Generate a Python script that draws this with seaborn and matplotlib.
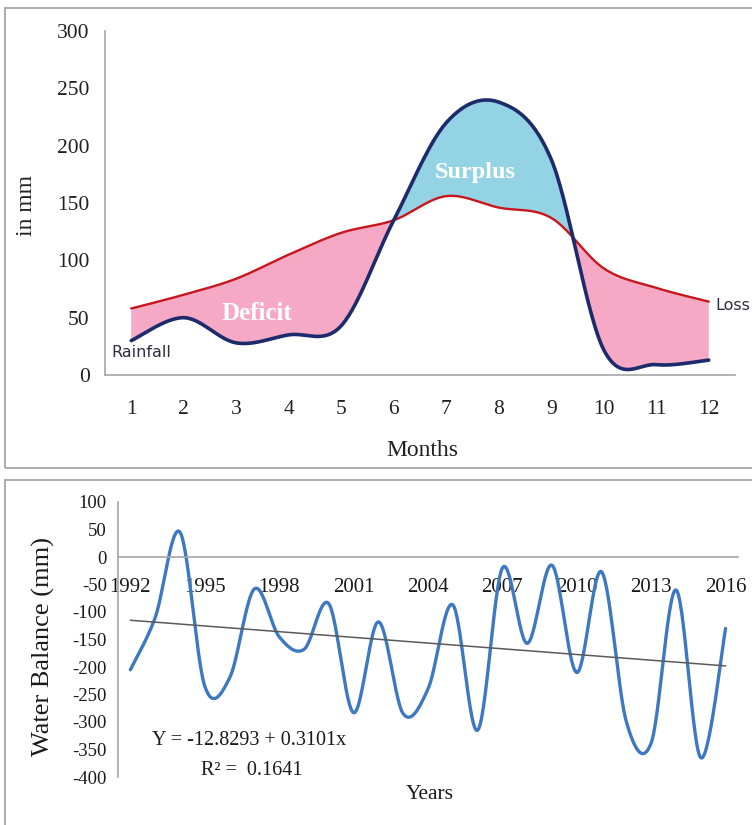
import numpy as np
import matplotlib
matplotlib.use("Agg")
import matplotlib.pyplot as plt
from matplotlib.patches import Rectangle
import seaborn as sns

# ---- data ----
months = [1, 2, 3, 4, 5, 6, 7, 8, 9, 10, 11, 12]
rainfall = [30, 50, 28, 35, 43, 135, 220, 238, 188, 22, 9, 13]
loss = [58, 70, 84, 105, 124, 135, 156, 146, 137, 93, 76, 64]

years = list(range(1992, 2017))
balance = [-205, -110, 45, -235, -220, -58, -145, -168, -85, -283,
           -118, -285, -240, -87, -315, -20, -157, -15, -210, -27,
           -300, -338, -60, -365, -130]
trend_years = [1992, 2016]
trend_vals = [-115, -198]
year_labels = [1992, 1995, 1998, 2001, 2004, 2007, 2010, 2013, 2016]

PINK = "#f6a9c4"
SKY = "#93d3e3"
NAVY = "#1d2a6c"
RED = "#c8161d"
BLUE = "#3d78c2"
GRID = "#a6a6a6"


def smooth(x, y, n=30):
    # Catmull-Rom curve through the points (Excel "smoothed line" look)
    x = np.asarray(x, float)
    y = np.asarray(y, float)
    px = np.concatenate([[x[0]], x, [x[-1]]])
    py = np.concatenate([[y[0]], y, [y[-1]]])
    t = np.linspace(0, 1, n, endpoint=False)
    h00 = 2 * t**3 - 3 * t**2 + 1
    h10 = t**3 - 2 * t**2 + t
    h01 = -2 * t**3 + 3 * t**2
    h11 = t**3 - t**2
    xs, ys = [], []
    for i in range(1, len(px) - 2):
        for p, out in ((px, xs), (py, ys)):
            m0 = (p[i + 1] - p[i - 1]) / 2
            m1 = (p[i + 2] - p[i]) / 2
            out.append(h00 * p[i] + h10 * m0 + h01 * p[i + 1] + h11 * m1)
    xs.append([x[-1]])
    ys.append([y[-1]])
    return np.concatenate(xs), np.concatenate(ys)


sns.set_style("white")
plt.rcParams["font.family"] = ["Liberation Serif", "DejaVu Serif"]
plt.rcParams["axes.unicode_minus"] = False

W, H = 752, 825
fig = plt.figure(figsize=(W / 100, H / 100), dpi=100)

# panel frames
fig.add_artist(Rectangle((5 / W, 1 - 468 / H), 1.1, (468 - 8) / H,
                         transform=fig.transFigure, fill=False,
                         ec=GRID, lw=1.3))
fig.add_artist(Rectangle((5 / W, -0.1), 1.1, 0.1 + 1 - 480 / H,
                         transform=fig.transFigure, fill=False,
                         ec=GRID, lw=1.3))

# ================= top chart =================
ax1 = fig.add_axes([105 / W, 1 - 375 / H, 630 / W, 344 / H])
mx, rs = smooth(months, rainfall)
_, ls = smooth(months, loss)
ax1.fill_between(mx, rs, ls, where=ls >= rs, color=PINK, interpolate=True, lw=0)
ax1.fill_between(mx, rs, ls, where=rs > ls, color=SKY, interpolate=True, lw=0)
sns.lineplot(x=mx, y=ls, ax=ax1, color=RED, lw=1.7, sort=False, estimator=None)
sns.lineplot(x=mx, y=rs, ax=ax1, color=NAVY, lw=2.6, sort=False, estimator=None)

ax1.set_xlim(0.5, 12.5)
ax1.set_ylim(0, 300)
ax1.set_yticks(range(0, 301, 50))
ax1.set_xticks(np.arange(0.5, 12.6, 1))
ax1.set_xticklabels([])
ax1.set_xticks(months, minor=True)
ax1.set_xticklabels([str(m) for m in months], minor=True)
ax1.tick_params(axis="x", which="major", length=6, color=GRID, direction="out")
ax1.tick_params(axis="x", which="minor", length=0, pad=18, labelsize=15.5, labelcolor="#222")
ax1.tick_params(axis="y", length=6, color=GRID, direction="out", labelsize=15.5,
                labelcolor="#222", pad=5)
for s in ["top", "right"]:
    ax1.spines[s].set_visible(False)
for s in ["left", "bottom"]:
    ax1.spines[s].set_color(GRID)
    ax1.spines[s].set_linewidth(1.2)

ax1.set_ylabel("in mm", fontsize=17, color="#222")
ax1.yaxis.set_label_coords(-0.108, 0.494)
ax1.set_xlabel("Months", fontsize=17, color="#222")
ax1.xaxis.set_label_coords(0.503, -0.19)

ax1.text(3.4, 54, "Deficit", color="white", fontsize=18, fontweight="bold",
         ha="center", va="center")
ax1.text(7.55, 177, "Surplus", color="white", fontsize=17.5, fontweight="bold",
         ha="center", va="center")
ax1.text(1.19, 20, "Rainfall", color="#2e2e3e", fontsize=11.5,
         family=["DejaVu Sans"], ha="center", va="center")
ax1.text(12.12, 61, "Loss", color="#2e2e3e", fontsize=11.5,
         family=["DejaVu Sans"], ha="left", va="center", clip_on=False)

# ================= bottom chart =================
ax2 = fig.add_axes([118 / W, 1 - 777 / H, 620 / W, 275 / H])
yx, yb = smooth(years, balance)
sns.lineplot(x=yx, y=yb, ax=ax2, color=BLUE, lw=2.4, sort=False, estimator=None)
sns.lineplot(x=trend_years, y=trend_vals, ax=ax2, color="#5a5a5a", lw=1.1)

ax2.set_xlim(1991.5, 2016.5)
ax2.set_ylim(-400, 100)
ax2.set_yticks(range(-400, 101, 50))
ax2.spines["bottom"].set_position(("data", 0))
ax2.set_xticks(np.arange(1991.5, 2016.6, 1))
ax2.set_xticklabels([])
ax2.set_xticks(year_labels, minor=True)
ax2.set_xticklabels([str(y) for y in year_labels], minor=True)
ax2.tick_params(axis="x", which="major", length=5, color=GRID, direction="out")
ax2.tick_params(axis="x", which="minor", length=0, pad=15, labelsize=15, labelcolor="#1a1a1a")
ax2.tick_params(axis="y", length=5, color=GRID, direction="out", labelsize=13.5,
                labelcolor="#1a1a1a", pad=3)
for s in ["top", "right"]:
    ax2.spines[s].set_visible(False)
for s in ["left", "bottom"]:
    ax2.spines[s].set_color(GRID)
    ax2.spines[s].set_linewidth(1.2)

ax2.set_ylabel("Water Balance (mm)", fontsize=19, color="#1a1a1a")
ax2.yaxis.set_label_coords(-0.102, 0.473)
ax2.set_xlabel("Years", fontsize=15.5, color="#1a1a1a")
ax2.xaxis.set_label_coords(0.503, -0.029)

ax2.text(1996.8, -333, "Y = -12.8293 + 0.3101x", fontsize=14.5, color="#1a1a1a",
         ha="center", va="center")
ax2.text(1996.9, -389, "R² =  0.1641", fontsize=14.5, color="#1a1a1a",
         ha="center", va="center")

fig.savefig("out.png", dpi=100)
